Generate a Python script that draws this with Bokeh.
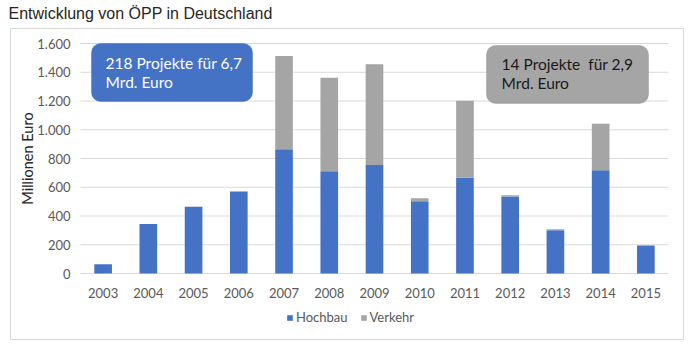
import math
from bokeh.plotting import figure
from bokeh.models import (ColumnDataSource, Range1d, Label, BoxAnnotation,
                          Legend, LegendItem)
from bokeh.core.properties import value
from bokeh.embed import file_html
from bokeh.resources import INLINE

years = [2003, 2004, 2005, 2006, 2007, 2008, 2009, 2010, 2011, 2012, 2013, 2014, 2015]
hochbau = [65, 345, 465, 570, 865, 712, 755, 503, 666, 536, 301, 719, 195]
verkehr = [0, 0, 0, 0, 648, 650, 700, 21, 535, 9, 7, 322, 0]
y_ticks = [0, 200, 400, 600, 800, 1000, 1200, 1400, 1600]
title_text = "Entwicklung von ÖPP in Deutschland"
y_title = "Millionen Euro"
series_names = ["Hochbau", "Verkehr"]
note_left = ["218 Projekte für 6,7", "Mrd. Euro"]
note_right = ["14 Projekte\u00a0 für 2,9", "Mrd. Euro"]

BLUE = "#4472C4"
GRAY = "#A5A5A5"
LABEL_FONT = "Lato"
TICK_COLOR = "#595959"

# layout (pixels): outer chart box and inner plot area
W, H = 700, 348
BOX_L, BOX_R, BOX_T, BOX_B = 10, 683, 28, 339
PLOT_L, PLOT_R, PLOT_T, PLOT_B = 80, 668, 43, 273

x0, x1 = years[0] - 0.5, years[-1] + 0.5
y0, y1 = y_ticks[0], y_ticks[-1]
sx = (PLOT_R - PLOT_L) / (x1 - x0)
sy = (PLOT_B - PLOT_T) / (y1 - y0)
x_range = Range1d(x0 - (PLOT_L - BOX_L) / sx, x1 + (BOX_R - PLOT_R) / sx)
y_range = Range1d(y0 - (BOX_B - PLOT_B) / sy, y1 + (PLOT_T - BOX_T) / sy)

src = ColumnDataSource(dict(year=years, Hochbau=hochbau, Verkehr=verkehr))

p = figure(width=W, height=H, output_backend="svg", toolbar_location=None,
           x_range=x_range, y_range=y_range,
           x_axis_location=None, y_axis_location=None,
           min_border_left=BOX_L, min_border_right=W - BOX_R,
           min_border_top=BOX_T, min_border_bottom=H - BOX_B,
           title=title_text)
p.grid.visible = False
p.outline_line_color = "#D9D9D9"
p.outline_line_width = 1
p.background_fill_color = "white"
p.border_fill_color = "white"
p.title.text_font = "Liberation Sans"
p.title.text_font_size = "16px"
p.title.text_font_style = "normal"
p.title.text_color = "#262626"
p.title.standoff = 9
p.title.vertical_align = "top"
p.title.offset = -2

# gridlines
p.segment(x0=[x0] * len(y_ticks), x1=[x1] * len(y_ticks), y0=y_ticks, y1=y_ticks,
          line_color="#D9D9D9", line_width=1)

rs = p.vbar_stack(series_names, x="year", width=0.39, source=src,
                  color=[BLUE, GRAY], line_color=None)

# y tick labels
p.text(x=[x0] * len(y_ticks), y=y_ticks,
       text=[f"{v:,}".replace(",", ".") for v in y_ticks],
       x_offset=-10, text_align="right", text_baseline="middle",
       text_font=value(LABEL_FONT), text_font_size="13px", text_color=TICK_COLOR)
# x tick labels
p.text(x=years, y=[y0] * len(years), text=[str(y) for y in years],
       y_offset=19, text_align="center", text_baseline="middle",
       text_font=value(LABEL_FONT), text_font_size="13px", text_color=TICK_COLOR)
# y axis title
p.text(x=[x0], y=[(y0 + y1) / 2], text=[y_title], x_offset=-53, angle=math.pi / 2,
       text_align="center", text_baseline="middle",
       text_font=value(LABEL_FONT), text_font_size="14.5px", text_color="#262626")

# annotation boxes
p.add_layout(BoxAnnotation(left=2002.743, right=2006.303, top=1600, bottom=1197,
                           fill_color=BLUE, fill_alpha=1, line_color="#2F528F",
                           line_width=1, border_radius=9))
p.add_layout(BoxAnnotation(left=2011.476, right=2015.058, top=1586, bottom=1183,
                           fill_color=GRAY, fill_alpha=1, line_color="#7F7F7F",
                           line_width=1, border_radius=9))
for i, t in enumerate(note_left):
    p.add_layout(Label(x=2003.053, y=1461 - i * 132, text=t, text_font=LABEL_FONT,
                       text_font_size="15.5px", text_color="white",
                       text_baseline="middle", text_align="left"))
for i, t in enumerate(note_right):
    p.add_layout(Label(x=2011.81, y=1454 - i * 132, text=t, text_font=LABEL_FONT,
                       text_font_size="15.5px", text_color="#1a1a1a",
                       text_baseline="middle", text_align="left"))

legend = Legend(items=[LegendItem(label=n, renderers=[r]) for n, r in zip(series_names, rs)],
                orientation="horizontal", location=(276, 14),
                glyph_width=7, glyph_height=7, label_standoff=3, spacing=12,
                padding=0, margin=0, label_height=13,
                label_text_font=LABEL_FONT, label_text_font_size="13px",
                label_text_color=TICK_COLOR, background_fill_alpha=0,
                border_line_color=None)
p.add_layout(legend, "center")

open("out.html", "w").write(file_html(p, INLINE))
